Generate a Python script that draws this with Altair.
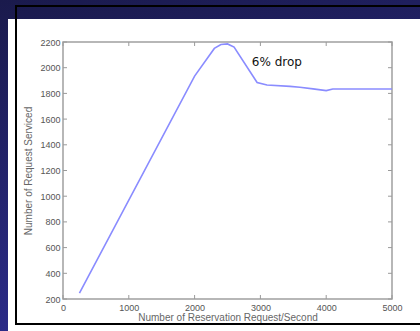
import altair as alt
import pandas as pd

# data
req_rate = [250, 2000, 2300, 2400, 2500, 2600, 2950, 3100, 3450, 3600, 3800, 4000, 4100, 5000]
serviced = [245, 1935, 2150, 2180, 2185, 2160, 1885, 1865, 1855, 1848, 1835, 1822, 1834, 1834]
x_ticks = [0, 1000, 2000, 3000, 4000, 5000]
y_ticks = [200, 400, 600, 800, 1000, 1200, 1400, 1600, 1800, 2000, 2200]
note_text = ["6% drop"]
note_x = [2870]
note_y = [2045]

W, H = 329, 257
L, T = 63, 42

df = pd.DataFrame({"x": req_rate, "y": serviced})
xs = alt.Scale(domain=[0, 5000], nice=False)
ys = alt.Scale(domain=[200, 2200], nice=False)
xa = alt.Axis(values=x_ticks, title="Number of Reservation Request/Second",
              format="d", grid=False, ticks=False, domain=False, labelPadding=4,
              titlePadding=0, labelFlush=False, labelOverlap=False, zindex=2)
ya = alt.Axis(values=y_ticks, title="Number of Request Serviced",
              format="d", grid=False, ticks=False, domain=False, labelPadding=3,
              titlePadding=6, labelFlush=False, labelOverlap=False, zindex=2)

one = pd.DataFrame({"a": [0]})

bg = alt.Chart(one).mark_rect(
    fill=alt.LinearGradient(gradient="linear", x1=0, y1=0, x2=0.3, y2=1,
                            stops=[alt.GradientStop(color="#1a1a4c", offset=0),
                                   alt.GradientStop(color="#2c2c8c", offset=1)]),
    clip=False,
).encode(x=alt.value(-L), x2=alt.value(420 - L), y=alt.value(-T), y2=alt.value(331 - T))

panel = alt.Chart(one).mark_rect(fill="white", clip=False).encode(
    x=alt.value(8 - L), x2=alt.value(420 - L + 5), y=alt.value(19 - T), y2=alt.value(331 - T + 5))

outline = alt.Chart(one).mark_rect(fill=None, stroke="black", strokeWidth=2, clip=False).encode(
    x=alt.value(16 - L), x2=alt.value(440 - L), y=alt.value(6 - T), y2=alt.value(324 - T))

frame = alt.Chart(one).mark_rect(fill=None, stroke="#a0a0a0", strokeWidth=1.5, clip=False).encode(
    x=alt.value(0), x2=alt.value(W), y=alt.value(0), y2=alt.value(H))

line = alt.Chart(df).mark_line(color="#8a8cff", strokeWidth=1.6).encode(
    x=alt.X("x:Q", scale=xs, axis=xa),
    y=alt.Y("y:Q", scale=ys, axis=ya),
)

xt = pd.DataFrame({"t": x_ticks})
yt = pd.DataFrame({"t": y_ticks})
tick_col = "#9a9a9a"
xb = alt.Chart(xt).mark_rule(color=tick_col, strokeWidth=1).encode(
    x=alt.X("t:Q", scale=xs, axis=xa), y=alt.value(H), y2=alt.value(H - 4))
xtp = alt.Chart(xt).mark_rule(color=tick_col, strokeWidth=1).encode(
    x=alt.X("t:Q", scale=xs, axis=xa), y=alt.value(0), y2=alt.value(4))
yl = alt.Chart(yt).mark_rule(color=tick_col, strokeWidth=1).encode(
    y=alt.Y("t:Q", scale=ys, axis=ya), x=alt.value(0), x2=alt.value(4))
yr = alt.Chart(yt).mark_rule(color=tick_col, strokeWidth=1).encode(
    y=alt.Y("t:Q", scale=ys, axis=ya), x=alt.value(W), x2=alt.value(W - 4))

note = alt.Chart(pd.DataFrame({"x": note_x, "y": note_y, "t": note_text})).mark_text(
    align="left", baseline="middle", font="DejaVu Sans", fontSize=12, color="#111111"
).encode(x=alt.X("x:Q", scale=xs, axis=xa), y=alt.Y("y:Q", scale=ys, axis=ya), text="t:N")

chart = alt.layer(bg, panel, outline, frame, line, xb, xtp, yl, yr, note).properties(
    width=W, height=H,
    padding={"left": L, "top": T, "right": 420 - L - W, "bottom": 331 - T - H},
    autosize=alt.AutoSizeParams(type="none"),
    background="#1a1a4c",
).configure_view(stroke=None).configure_axis(
    labelFont="Liberation Sans", labelFontSize=9, labelColor="#555555",
    titleFont="Liberation Sans", titleFontSize=10, titleColor="#666666", titleFontWeight="normal",
)

chart.save("out.html", embed_options={"renderer": "svg", "actions": False})
